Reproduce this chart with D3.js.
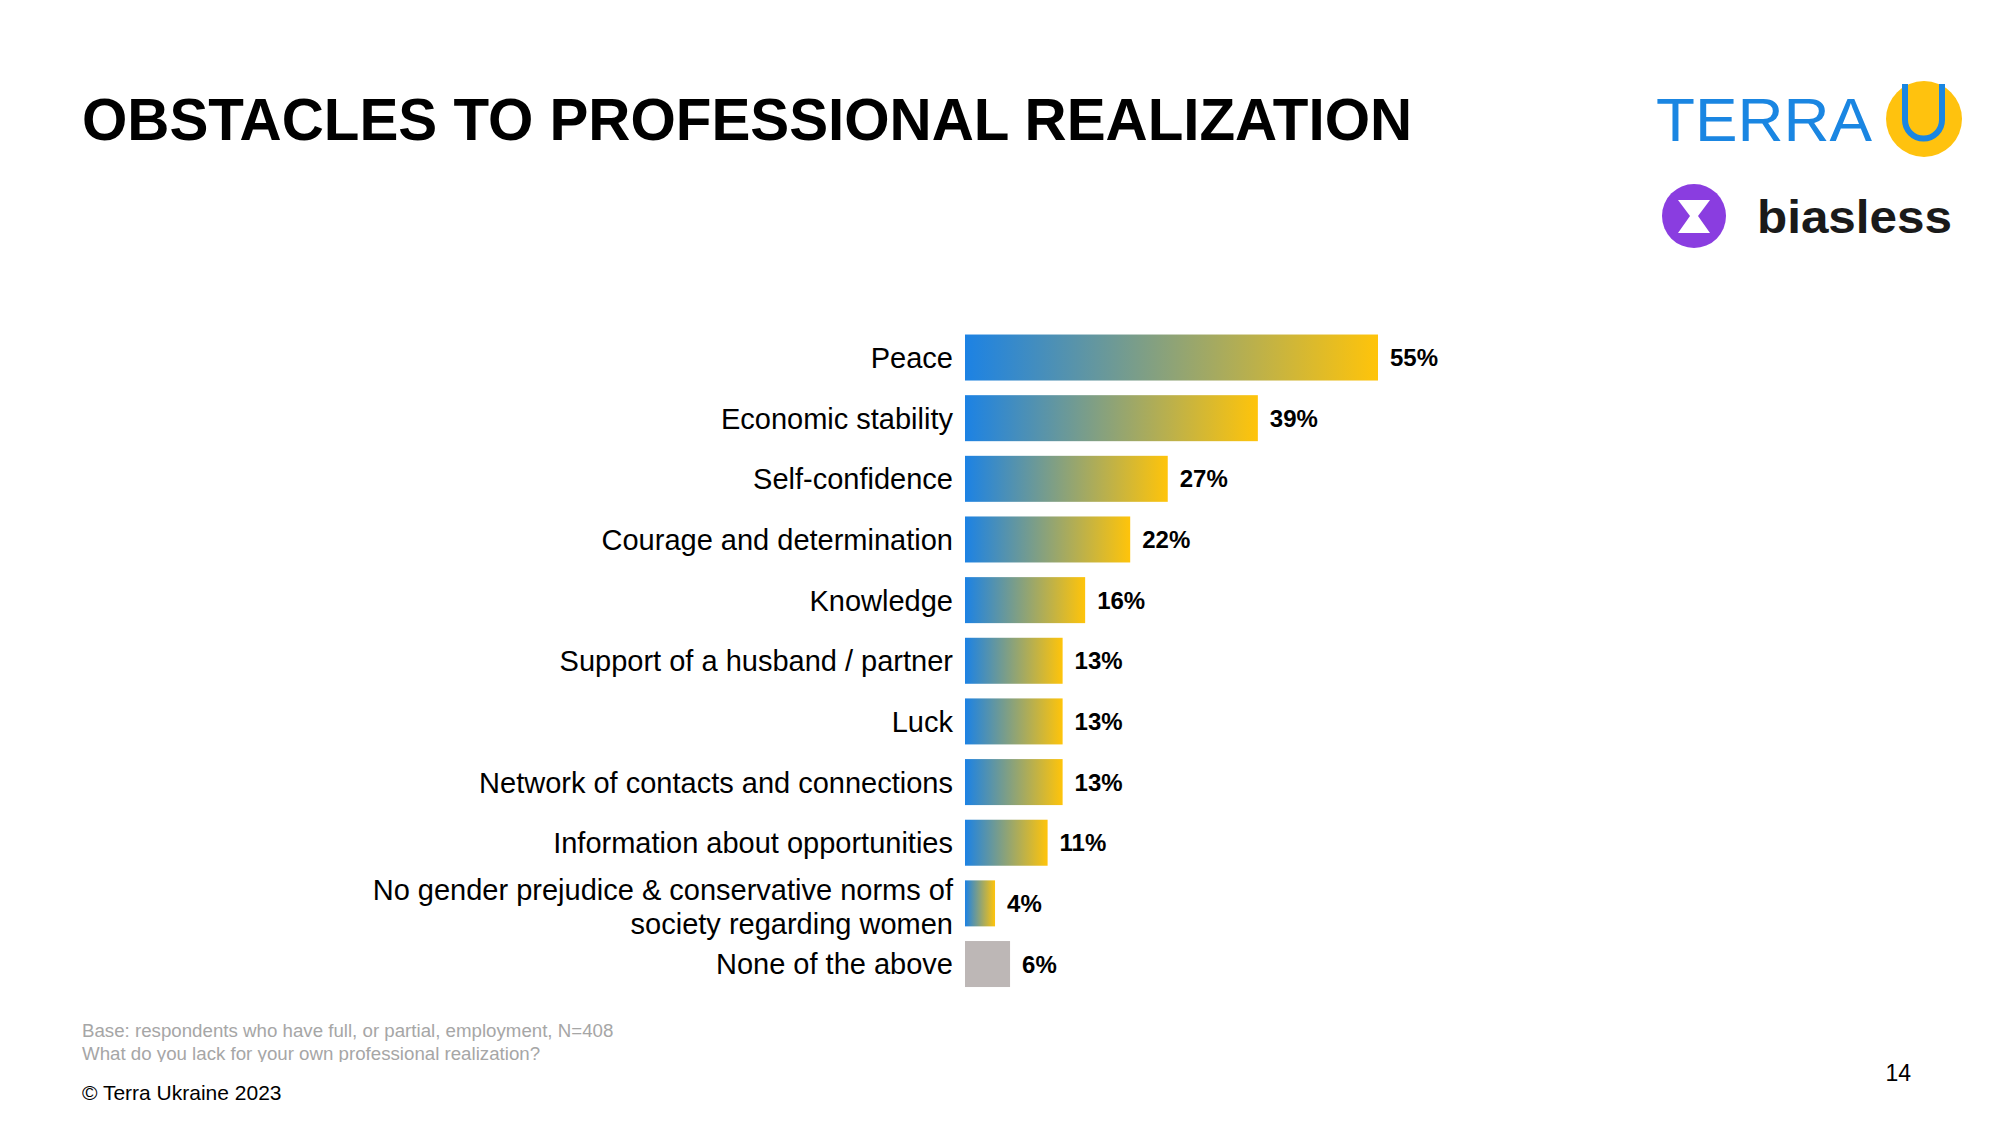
<!DOCTYPE html>
<html>
<head>
<meta charset="utf-8">
<script src="https://cdn.jsdelivr.net/npm/d3@7"></script>
<style>
html,body{margin:0;padding:0;background:#fff;}
svg{display:block;font-family:"Liberation Sans",Arial,sans-serif;}
</style>
</head>
<body>
<div id="chart"></div>
<script>
(function(){
const categories = [
  'Peace',
  'Economic stability',
  'Self-confidence',
  'Courage and determination',
  'Knowledge',
  'Support of a husband / partner',
  'Luck',
  'Network of contacts and connections',
  'Information about opportunities',
  'No gender prejudice & conservative norms of|society regarding women',
  'None of the above'
];
const values = [55, 39, 27, 22, 16, 13, 13, 13, 11, 4, 6];
const neutral = ['None of the above'];
const footnotes = [
  'Base: respondents who have full, or partial, employment, N=408',
  'What do you lack for your own professional realization?'
];

const W = 2000, H = 1125;
const svg = d3.select('#chart').append('svg').attr('width', W).attr('height', H);

const defs = svg.append('defs');
const grad = defs.append('linearGradient').attr('id', 'barGrad')
  .attr('x1', '0%').attr('x2', '100%').attr('y1', '0%').attr('y2', '0%');
grad.append('stop').attr('offset', '0%').attr('stop-color', '#1c82e4');
grad.append('stop').attr('offset', '100%').attr('stop-color', '#ffc40a');
// the second footnote line is cut off in the original slide
defs.append('clipPath').attr('id', 'footClip')
  .append('rect').attr('x', 0).attr('y', 0).attr('width', W).attr('height', 1062);

// title
svg.append('text').attr('x', 82).attr('y', 140)
  .attr('font-size', 58.3).attr('font-weight', 'bold').attr('fill', '#000')
  .text('OBSTACLES TO PROFESSIONAL REALIZATION');

// scales
const y = d3.scaleBand().domain(categories).range([327.2, 994.35])
  .paddingInner(0.2415).paddingOuter(0.12075);
const x = d3.scaleLinear().domain([0, 55]).range([965, 1378]);

const rows = svg.append('g').selectAll('g').data(categories).enter().append('g');

rows.append('rect')
  .attr('x', x(0))
  .attr('y', d => y(d))
  .attr('width', (d, i) => x(values[i]) - x(0))
  .attr('height', y.bandwidth())
  .attr('fill', d => neutral.includes(d) ? '#bdb7b6' : 'url(#barGrad)');

rows.append('text')
  .attr('x', (d, i) => x(values[i]) + 12)
  .attr('y', d => y(d) + y.bandwidth() / 2)
  .attr('dy', '0.36em')
  .attr('font-size', 24).attr('font-weight', 'bold').attr('fill', '#000')
  .text((d, i) => values[i] + '%');

rows.append('text')
  .attr('x', x(0) - 12)
  .attr('y', d => y(d) + y.bandwidth() / 2)
  .attr('text-anchor', 'end')
  .attr('font-size', 29).attr('fill', '#000')
  .each(function(d){
    const lines = d.split('|');
    const t = d3.select(this);
    const first = lines.length > 1 ? -0.12 : 0.36;
    lines.forEach((ln, k) => {
      t.append('tspan').attr('x', x(0) - 12)
        .attr('dy', k === 0 ? first + 'em' : '1.18em')
        .text(ln);
    });
  });

// footer
svg.append('g').attr('clip-path', 'url(#footClip)')
  .selectAll('text').data(footnotes).enter().append('text')
  .attr('x', 82).attr('y', (d, i) => 1037 + i * 23)
  .attr('font-size', 18.7).attr('fill', '#a6a6a6')
  .text(d => d);

svg.append('text').attr('x', 82).attr('y', 1100)
  .attr('font-size', 21).attr('fill', '#000').text('\u00a9 Terra Ukraine 2023');
svg.append('text').attr('x', 1911).attr('y', 1081).attr('text-anchor', 'end')
  .attr('font-size', 23).attr('fill', '#000').text('14');

// logos
const logo = svg.append('g');
logo.append('text').attr('x', 1656).attr('y', 141)
  .attr('font-size', 62).attr('fill', '#1a86e2')
  .attr('textLength', 216).attr('lengthAdjust', 'spacingAndGlyphs')
  .text('TERRA');
logo.append('circle').attr('cx', 1924).attr('cy', 119).attr('r', 38).attr('fill', '#ffc20e');
logo.append('path')
  .attr('d', 'M1905,84 L1905,120 A18.5,18.5 0 0 0 1942,120 L1942,84')
  .attr('fill', 'none').attr('stroke', '#1a86e2').attr('stroke-width', 6);

logo.append('circle').attr('cx', 1694).attr('cy', 216).attr('r', 32).attr('fill', '#8a3de0');
logo.append('path')
  .attr('d', 'M1678,200 L1710,200 L1698,216 L1710,233 L1678,233 L1690,216 Z')
  .attr('fill', '#fff');
logo.append('text').attr('x', 1757).attr('y', 233)
  .attr('font-size', 46).attr('font-weight', 'bold').attr('fill', '#1a1a1a')
  .attr('textLength', 195).attr('lengthAdjust', 'spacingAndGlyphs')
  .text('biasless');
})();
</script>
</body>
</html>
